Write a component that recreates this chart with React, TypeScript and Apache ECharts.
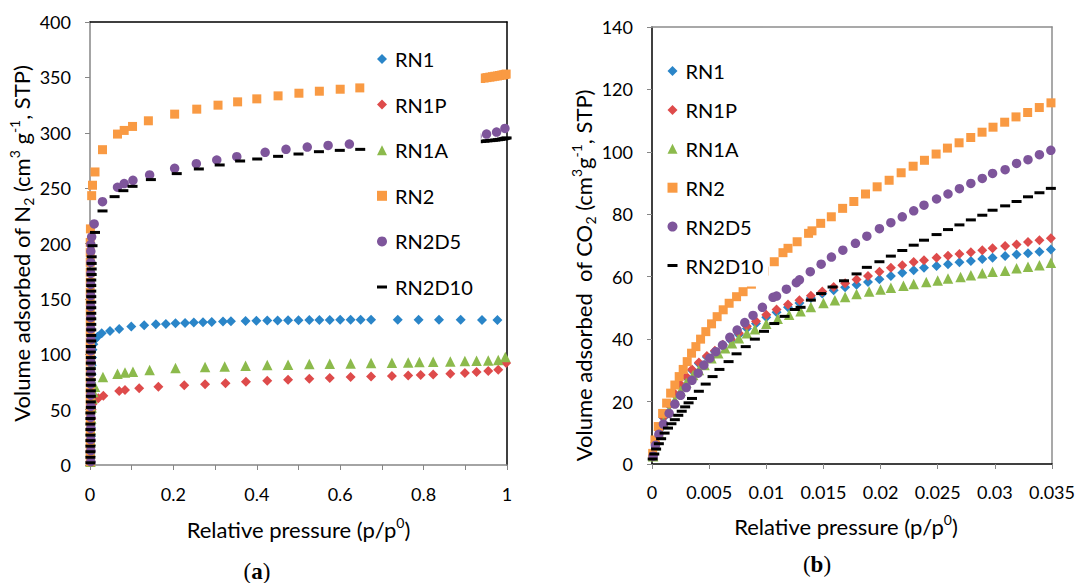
import React, { useEffect, useRef } from 'react';
import * as echarts from 'echarts';

const FONT = 'Lato, "Noto Sans", sans-serif';
const SERIF = '"Liberation Serif", "DejaVu Serif", serif';

const NAMES = ['RN1', 'RN1P', 'RN1A', 'RN2', 'RN2D5', 'RN2D10'];
const COLORS = ['#2A85C8', '#DE4B4B', '#8CBA4C', '#F99A43', '#7E559B', '#000000'];
const SYMBOLS = ['diamond', 'diamond', 'triangle', 'rect', 'circle', 'rect'];
const SIZES: any[] = [10, 10, 10.5, 9, 9.5, [10, 3]];
const LEGEND_ICONS = ['diamond', 'diamond', 'triangle', 'rect', 'circle', 'path://M0 0H10V3H0Z'];

// ---------- Panel (a): N2 ----------
const A_X_TICKS = [0, 0.2, 0.4, 0.6, 0.8, 1];
const A_RN1_X = [0.001, 0.001, 0.001, 0.002, 0.002, 0.002, 0.002, 0.003, 0.003, 0.003, 0.004, 0.004, 0.005, 0.006, 0.008, 0.011,
  0.018, 0.028, 0.048, 0.07, 0.099, 0.13, 0.158, 0.182, 0.205, 0.228, 0.249, 0.271, 0.292, 0.319, 0.338, 0.373, 0.399, 0.425, 0.45, 0.475,
  0.5, 0.526, 0.55, 0.575, 0.6, 0.625, 0.649, 0.674, 0.738, 0.788, 0.837, 0.889, 0.94, 0.977];
const A_RN1_Y = [3, 10, 18, 26, 34, 42, 50, 58, 66, 74, 82, 90, 97, 104, 109, 113,
  115.8, 118.9, 121.1, 122.9, 125, 126.1, 127.2, 127.4, 128, 128.3, 128.6, 129, 129.2, 129.6, 129.8, 130.1, 130.2, 130.4, 130.5, 130.7,
  130.8, 131, 131, 131, 131.1, 131.1, 131.1, 131.2, 131.2, 131.2, 131.1, 131.1, 131, 131];
const A_RN1P_X = [0.001, 0.001, 0.002, 0.002, 0.003, 0.004, 0.006, 0.01,
  0.02, 0.032, 0.07, 0.084, 0.118, 0.164, 0.226, 0.276, 0.325, 0.374, 0.425, 0.475, 0.526, 0.575, 0.625, 0.674, 0.724, 0.763, 0.793,
  0.823, 0.864, 0.899, 0.927, 0.955, 0.979, 0.998];
const A_RN1P_Y = [3, 12, 22, 32, 42, 50, 55, 58,
  60.2, 62.5, 66.9, 67.7, 69.2, 70.7, 72.1, 73, 73.9, 75.1, 76, 76.9, 77.9, 78.5, 79.4, 80, 80.3, 80.9, 81.2,
  81.8, 82.4, 83, 83.9, 84.8, 86, 92];
const A_RN1A_X = [0.001, 0.001, 0.002, 0.002, 0.003, 0.004, 0.006, 0.008,
  0.012, 0.031, 0.066, 0.084, 0.103, 0.143, 0.205, 0.276, 0.323, 0.373, 0.425, 0.475, 0.526, 0.575, 0.625, 0.674, 0.724, 0.763, 0.79,
  0.823, 0.864, 0.899, 0.927, 0.955, 0.979, 0.996];
const A_RN1A_Y = [3, 12, 22, 32, 42, 52, 60, 66,
  70.7, 79.5, 82.5, 83.6, 84.3, 85.8, 87.5, 88.4, 89, 89.6, 90.2, 90.5, 91.1, 91.4, 91.7, 92, 92.3, 92.6, 92.9,
  93.2, 93.5, 93.8, 94.1, 94.4, 94.8, 97.5];
const A_RN2_X = [0.0005, 0.0005, 0.0005, 0.0005, 0.0005, 0.0005, 0.0005, 0.0005, 0.0005, 0.0005, 0.0005, 0.0005,
  0.0005, 0.0005, 0.0005, 0.0005, 0.0005, 0.0005, 0.0005, 0.0005, 0.0005, 0.0005, 0.0005,
  0.001, 0.004, 0.006, 0.012, 0.03, 0.066, 0.082, 0.102, 0.14, 0.203, 0.256, 0.307, 0.354, 0.4, 0.451, 0.501, 0.55, 0.6, 0.647,
  0.7, 0.75, 0.8, 0.85, 0.9, 0.937, 0.945, 0.952, 0.959, 0.965, 0.971, 0.977, 0.982, 0.987, 0.991, 0.995, 0.998];
const A_RN2_Y = [3, 12, 21, 30, 39, 48, 57, 66, 75, 84, 93, 102, 111, 120, 129, 138, 147, 156, 165, 174, 183, 192, 201,
  213.2, 243.2, 252.6, 264.6, 284.7, 298.8, 302.1, 305.7, 310.8, 316.8, 321.3, 324.9, 327.9, 330.6, 333.3, 335.7, 337.5, 339.3, 340.5,
  342, 343.5, 345, 346.5, 348, 349, 349.4, 349.8, 350.2, 350.6, 351, 351.3, 351.7, 352, 352.3, 352.6, 353];
const A_RN2D5_X = [0.002, 0.002, 0.002, 0.002, 0.002, 0.002, 0.002, 0.002, 0.002, 0.002, 0.002, 0.002, 0.002, 0.002, 0.002,
  0.002, 0.002, 0.002, 0.002, 0.002,
  0.002, 0.004, 0.01, 0.03, 0.066, 0.082, 0.103, 0.143, 0.203, 0.255, 0.304, 0.352, 0.42, 0.47, 0.521, 0.571, 0.622,
  0.68, 0.74, 0.8, 0.86, 0.928, 0.951, 0.975, 0.995];
const A_RN2D5_Y = [3, 13, 23, 33, 43, 53, 63, 73, 83, 93, 103, 113, 123, 133, 143, 153, 163, 173, 183, 193,
  199.1, 206, 217.7, 237.8, 250.8, 254.1, 257.1, 261.9, 267.9, 272.1, 275.4, 278.4, 282.3, 285, 287.1, 288.6, 289.8,
  291, 292.2, 293.3, 294.5, 296.7, 298.8, 300.6, 303.9];
const A_RN2D10_X = [0.001, 0.001, 0.001, 0.001, 0.001, 0.001, 0.001, 0.001, 0.001, 0.001,
  0.002, 0.002, 0.002, 0.002, 0.002, 0.002, 0.002, 0.002, 0.002, 0.002, 0.002, 0.002,
  0.003, 0.003, 0.003, 0.003, 0.003, 0.003, 0.003, 0.003, 0.003, 0.003, 0.003, 0.003,
  0.004, 0.004, 0.004, 0.004,
  0.006, 0.012, 0.03, 0.059, 0.08, 0.102, 0.146, 0.208, 0.261, 0.311, 0.36, 0.401, 0.451, 0.5, 0.549, 0.599, 0.648,
  0.7, 0.76, 0.82, 0.88, 0.921, 0.93, 0.938, 0.946, 0.953, 0.96, 0.966, 0.972, 0.978, 0.983, 0.988, 0.992, 0.996, 0.999];
const A_RN2D10_Y = [2, 7, 12, 17, 22, 27, 32, 37, 42, 47,
  52, 57, 62, 67, 72, 77, 82, 87, 92, 97, 102, 107,
  112, 117, 122, 127, 132, 137, 142, 147, 152, 157, 162, 167,
  172, 177, 182, 188,
  198, 210, 229.4, 242.3, 247.7, 251.6, 257.7, 263.1, 267.3, 270.9, 274.5, 276.3, 278.7, 280.8, 282.9, 284.1, 285,
  286, 287.3, 288.6, 290, 291.6, 291.9, 292.2, 292.4, 292.7, 292.9, 293.2, 293.4, 293.7, 294, 294.3, 294.6, 295, 295.3];

// ---------- Panel (b): CO2 ----------
const B_RN1_X = [0.0001, 0.0003, 0.0006, 0.001, 0.0015, 0.002, 0.0025, 0.003, 0.0035, 0.0041, 0.0048, 0.0055, 0.0062, 0.0069,
  0.0076, 0.0083, 0.0091, 0.01, 0.0109, 0.0119, 0.0129, 0.0139, 0.0149, 0.0159, 0.0169, 0.0179, 0.0189, 0.0199, 0.0209, 0.0219,
  0.0229, 0.0238, 0.0249, 0.0259, 0.0269, 0.0279, 0.0289, 0.0298, 0.0309, 0.0319, 0.0329, 0.0339, 0.0349];
const B_RN1_Y = [2.8, 6.8, 10.8, 14.8, 18.8, 22.3, 25.3, 27.8, 30, 32.2, 34.3, 36, 37.8, 39.6, 41.4, 43.4, 45, 47, 48.6, 50.2,
  51.6, 53.2, 54.6, 55.7, 56.6, 57.4, 58.3, 59.2, 60.2, 61.3, 62.1, 62.9, 63.4, 64, 64.6, 65, 65.7, 66.1, 66.6, 67.1, 67.5, 68, 68.7];
const B_RN1P_X = B_RN1_X;
const B_RN1P_Y = [3, 7, 11, 15, 19, 22.5, 25.5, 28, 30.3, 32.5, 34.6, 36.3, 38.2, 40, 41.9, 44.1, 45.7, 47.8, 49.5, 51.1,
  52.5, 53.9, 55.3, 56.7, 57.9, 59.1, 60.2, 61.6, 62.9, 63.7, 64.7, 65.3, 66.1, 66.7, 67.3, 67.8, 68.5, 69.1, 69.8, 70.3, 71.1, 71.7, 72.3];
const B_RN1A_X = [0.0001, 0.0003, 0.0006, 0.001, 0.0015, 0.002, 0.0025, 0.003, 0.0036, 0.0041, 0.0046, 0.0052, 0.0058, 0.0064,
  0.007, 0.0076, 0.0083, 0.009, 0.01, 0.011, 0.012, 0.013, 0.0139, 0.015, 0.016, 0.0169, 0.0179, 0.019, 0.02, 0.0209, 0.022,
  0.0229, 0.024, 0.025, 0.0259, 0.027, 0.0279, 0.0289, 0.0298, 0.0309, 0.0319, 0.0329, 0.0339, 0.0349];
const B_RN1A_Y = [2.5, 6, 10, 13.5, 17, 20.5, 23.5, 26, 28.5, 30.1, 31.7, 33.9, 35.5, 37.1, 38.7, 40.3, 41.9, 43.2, 44.9, 46.5,
  47.8, 48.9, 50.3, 51.6, 52.5, 53.5, 54.5, 55.3, 55.9, 56.5, 57.1, 57.7, 58.3, 58.8, 59.4, 59.9, 60.5, 61.1, 61.6, 61.9, 62.7, 63.2, 63.7, 64.5];
const B_RN2_X = [0.00006, 0.00026, 0.00055, 0.00093, 0.00128, 0.00163, 0.002, 0.00238, 0.00273, 0.00308, 0.00346, 0.00384,
  0.00425, 0.00471, 0.00521, 0.0057, 0.00623, 0.00675, 0.0074, 0.00797, 0.0087, 0.0093, 0.0098, 0.0107, 0.01146, 0.0119, 0.0127,
  0.0137, 0.014, 0.01476, 0.01569, 0.01668, 0.01766, 0.01868, 0.0197, 0.02075, 0.0218, 0.02285, 0.02384, 0.02486, 0.02585,
  0.02687, 0.02789, 0.02888, 0.02984, 0.03086, 0.03185, 0.03287, 0.03389, 0.03491];
const B_RN2_Y = [3.4, 7.7, 12, 16.2, 19.5, 22.7, 25.3, 28, 30.3, 32.8, 35.5, 37.6, 40, 42.4, 44.9, 47.2, 49.4, 51.5, 53.6, 55.2,
  57.6, 59.8, 61.8, 64.8, 67.7, 69.1, 71.2, 73.9, 74.7, 77.1, 79.2, 81.9, 84.1, 86.5, 88.8, 90.9, 93.3, 95.4, 97.3, 99.3, 101.2,
  102.9, 104.6, 106.3, 107.9, 109.5, 111.2, 112.6, 114.2, 115.7];
const B_RN2D5_X = [0.0001, 0.0003, 0.0006, 0.001, 0.0015, 0.002, 0.0025, 0.003, 0.0035, 0.00404, 0.00454, 0.00506, 0.00559,
  0.00617, 0.00681, 0.00745, 0.00812, 0.00884, 0.00966, 0.01059, 0.0109, 0.01176, 0.01263, 0.0129, 0.01385, 0.0148, 0.0157,
  0.0167, 0.0178, 0.0188, 0.0199, 0.0209, 0.0219, 0.0229, 0.0238, 0.0249, 0.0259, 0.0269, 0.0279, 0.0289, 0.0298, 0.0309,
  0.0319, 0.0329, 0.0339, 0.0349];
const B_RN2D5_Y = [2.5, 6, 9.5, 12.8, 16.2, 19.2, 22, 24.5, 26.8, 29.1, 31.7, 33.9, 36, 38.1, 40.6, 42.9, 45.3, 47.6, 50.2, 53.4,
  53.8, 56, 58.1, 59, 61.6, 64, 66.3, 68.5, 70.7, 73, 75.4, 77.3, 79.2, 81.1, 82.9, 84.9, 86.5, 88.2, 89.9, 91.5, 93.1, 94.3,
  96.3, 97.5, 99.1, 100.5];
const B_RN2D10_X = [0.00006, 0.0002, 0.00036, 0.0006, 0.0008, 0.0011, 0.0014, 0.0017, 0.002, 0.0023, 0.0026, 0.0029, 0.0032,
  0.0035, 0.0041, 0.0047, 0.0053, 0.0059, 0.0067, 0.0074, 0.0082, 0.009, 0.0098, 0.0107, 0.0116, 0.0125, 0.013, 0.0139, 0.0148,
  0.0158, 0.0168, 0.0179, 0.0188, 0.0199, 0.0209, 0.0219, 0.0229, 0.0238, 0.0249, 0.0259, 0.0269, 0.0279, 0.0289, 0.0298, 0.0309,
  0.0319, 0.0329, 0.0339, 0.0349];
const B_RN2D10_Y = [1.6, 3.2, 4.8, 6.5, 8.1, 9.9, 11.5, 12.9, 14.2, 15.6, 16.9, 18.3, 19.6, 21, 23.3, 25.6, 28, 30.3, 32.8, 35.3,
  37.6, 40, 42.5, 45, 47.3, 49.5, 50.2, 52.5, 54.6, 56.7, 58.7, 60.9, 63, 64.8, 66.6, 68.4, 70.1, 71.7, 73.5, 75.1, 76.6, 78.2,
  79.7, 81.3, 82.7, 84.1, 85.6, 86.9, 88.3];

const A_SETS = [[A_RN1_X, A_RN1_Y], [A_RN1P_X, A_RN1P_Y], [A_RN1A_X, A_RN1A_Y], [A_RN2_X, A_RN2_Y], [A_RN2D5_X, A_RN2D5_Y], [A_RN2D10_X, A_RN2D10_Y]];
const B_SETS = [[B_RN1_X, B_RN1_Y], [B_RN1P_X, B_RN1P_Y], [B_RN1A_X, B_RN1A_Y], [B_RN2_X, B_RN2_Y], [B_RN2D5_X, B_RN2D5_Y], [B_RN2D10_X, B_RN2D10_Y]];

const zip = (xs: number[], ys: number[]) => xs.map((x, i) => [x, ys[i]]);

const rich = {
  sub: { fontFamily: FONT, fontSize: 14, lineHeight: 18, verticalAlign: 'bottom', color: '#000' },
  sup: { fontFamily: FONT, fontSize: 14, lineHeight: 18, verticalAlign: 'top', color: '#000' },
};
const nameStyle = (padding: number[]) => ({
  fontFamily: FONT, fontSize: 22, color: '#000', lineHeight: 28, padding, rich,
});
const labelStyle = { fontFamily: FONT, fontSize: 18, color: '#000' };

function buildOption() {
  const series: any[] = [];
  const addPanel = (sets: number[][][], idx: number) => {
    sets.forEach(([xs, ys], i) => {
      series.push({
        type: 'scatter', name: NAMES[i], xAxisIndex: idx, yAxisIndex: idx,
        data: zip(xs, ys), symbol: SYMBOLS[i], symbolSize: SIZES[i],
        itemStyle: { color: COLORS[i], opacity: 1 }, clip: false, silent: true,
      });
    });
  };
  addPanel(A_SETS, 0);
  addPanel(B_SETS, 1);

  const legendData = NAMES.map((n, i) => ({ name: n, icon: LEGEND_ICONS[i] }));
  const legendBase = {
    orient: 'vertical', itemWidth: 10, itemHeight: 10, backgroundColor: '#fff', selectedMode: false,
    textStyle: { fontFamily: FONT, fontSize: 20, lineHeight: 22, color: '#000', padding: [0, 0, 0, 3] },
    data: legendData, z: 10,
  };
  const borderAxis = (grid: number, pos: string, color: string, isX: boolean, min: number, max: number) => ({
    gridIndex: grid, type: 'value', position: pos, min, max,
    axisLine: { show: true, onZero: false, lineStyle: { color, width: 1.5 } },
    axisTick: { show: false }, axisLabel: { show: false }, splitLine: { show: false },
  });

  return {
    animation: false,
    backgroundColor: '#fff',
    grid: [
      { left: 90, top: 22, width: 417, height: 443 },
      { left: 652, top: 27, width: 401, height: 437 },
    ],
    legend: [
      { ...legendBase, left: 368, top: 40, padding: [8, 8, 8, 9], itemGap: 23.6 },
      { ...legendBase, left: 660, top: 50, padding: [10, 5, 10, 7.5], itemGap: 16.9 },
    ],
    xAxis: [
      {
        gridIndex: 0, type: 'value', min: 0, max: 1, interval: 0.1,
        axisLine: { show: true, onZero: false, lineStyle: { color: '#868686', width: 1.5 } },
        axisTick: { show: true, length: 5, lineStyle: { color: '#868686' } },
        axisLabel: {
          ...labelStyle, margin: 20,
          formatter: (v: number) => { const t = Math.round(v * 10); return t % 2 === 0 ? String(t / 10) : ''; },
        },
        splitLine: { show: false },
        name: 'Relative pressure (p/p{sup|0})', nameLocation: 'middle', nameGap: 50,
        nameTextStyle: nameStyle([0, 0, 0, 0]),
      },
      {
        gridIndex: 1, type: 'value', min: 0, max: 0.035, interval: 0.005,
        axisLine: { show: true, onZero: false, lineStyle: { color: '#000', width: 1.5 } },
        axisTick: { show: true, length: 5, lineStyle: { color: '#868686' } },
        axisLabel: {
          ...labelStyle, margin: 19,
          formatter: (v: number) => (v === 0 ? '0' : String(Number(v.toFixed(3)))),
        },
        splitLine: { show: false },
        name: 'Relative pressure (p/p{sup|0})', nameLocation: 'middle', nameGap: 48.5,
        nameTextStyle: nameStyle([0, 12, 0, 0]),
      },
      borderAxis(0, 'top', '#000', true, 0, 1),
      borderAxis(1, 'top', '#8c8c8c', true, 0, 0.035),
    ],
    yAxis: [
      {
        gridIndex: 0, type: 'value', min: 0, max: 400, interval: 50,
        axisLine: { show: true, onZero: false, lineStyle: { color: '#868686', width: 1.5 } },
        axisTick: { show: true, length: 5, lineStyle: { color: '#868686' } },
        axisLabel: { ...labelStyle, margin: 19 },
        splitLine: { show: false },
        name: 'Volume adsorbed of N{sub|2} (cm{sup|3} g{sup|-1}, STP)', nameLocation: 'middle', nameGap: 54, nameRotate: 90,
        nameTextStyle: nameStyle([0, 0, 0, 0]),
      },
      {
        gridIndex: 1, type: 'value', min: 0, max: 140, interval: 20,
        axisLine: { show: true, onZero: false, lineStyle: { color: '#000', width: 1.5 } },
        axisTick: { show: true, length: 5, lineStyle: { color: '#868686' } },
        axisLabel: { ...labelStyle, margin: 19 },
        splitLine: { show: false },
        name: 'Volume adsorbed  of CO{sub|2} (cm{sup|3}g{sup|-1}, STP)', nameLocation: 'middle', nameGap: 54, nameRotate: 90,
        nameTextStyle: nameStyle([0, 60, 0, 0]),
      },
      borderAxis(0, 'right', '#000', false, 0, 400),
      borderAxis(1, 'right', '#8c8c8c', false, 0, 140),
    ],
    graphic: [
      {
        type: 'text', x: 257, y: 571,
        style: {
          text: '{p|(}{b|a}{p|)}', align: 'center', verticalAlign: 'middle',
          rich: {
            p: { fontFamily: SERIF, fontSize: 23, fill: '#000' },
            b: { fontFamily: SERIF, fontSize: 23, fontWeight: 'bold', fill: '#000' },
          },
        },
      },
      {
        type: 'text', x: 817, y: 564,
        style: {
          text: '{p|(}{b|b}{p|)}', align: 'center', verticalAlign: 'middle',
          rich: {
            p: { fontFamily: SERIF, fontSize: 23, fill: '#000' },
            b: { fontFamily: SERIF, fontSize: 23, fontWeight: 'bold', fill: '#000' },
          },
        },
      },
    ],
    series,
  };
}

export default function App() {
  const ref = useRef<HTMLDivElement>(null);
  useEffect(() => {
    if (!ref.current) return;
    const chart = echarts.init(ref.current, null, { renderer: 'svg' });
    chart.setOption(buildOption() as any);
    return () => chart.dispose();
  }, []);
  return (
    <div
      ref={ref}
      style={{ position: 'absolute', left: 0, top: 0, width: 1078, height: 583, background: '#fff' }}
    />
  );
}
